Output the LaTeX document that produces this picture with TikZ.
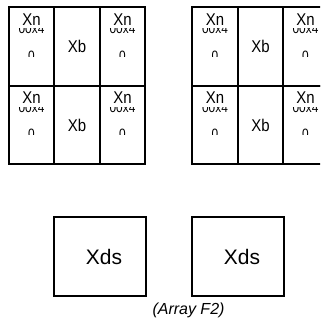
\documentclass[tikz,border=0pt]{standalone}
\usepackage{fontspec}
\setmainfont{Liberation Sans}
\newfontfamily\cellfont[FakeStretch=0.88]{Liberation Sans}
\usepackage{tikz}
\usetikzlibrary{positioning}

\newcommand\xntext[1]{%
\node[bigtext,anchor=base] at ([yshift=-19pt]#1.north) {Xn};
\begin{scope}
\clip ([xshift=-23pt,yshift=-22.5pt]#1.north) rectangle ([xshift=23pt,yshift=-27.5pt]#1.north);
\node[smalltext,anchor=base] at ([yshift=-27.5pt]#1.north) {00x4};
\end{scope}
\begin{scope}
\clip ([xshift=-23pt,yshift=-44pt]#1.north) rectangle ([xshift=23pt,yshift=-50pt]#1.north);
\node[smalltext,anchor=north] at ([yshift=-44.5pt]#1.north) {0};
\end{scope}
}

\begin{document}
\begin{tikzpicture}[x=1pt,y=-1pt,
  cell/.style={draw,line width=2pt,minimum width=45.5pt,minimum height=78.5pt,inner sep=0pt},
  dsbox/.style={draw,line width=2pt,minimum width=92pt,minimum height=79pt,inner sep=0pt},
  bigtext/.style={font=\cellfont\fontsize{17}{19}\selectfont,inner sep=0pt},
  smalltext/.style={font=\cellfont\fontsize{13.5}{15}\selectfont,inner sep=0pt}]
\useasboundingbox (0,0) rectangle (320,320);
\clip (0,0) rectangle (320,320);

% left array
\node[cell] (a11) at (31.5,46.5) {};
\node[cell] (a12) at (77,46.5) {};
\node[cell] (a13) at (122.5,46.5) {};
\node[cell] (a21) at (31.5,125) {};
\node[cell] (a22) at (77,125) {};
\node[cell] (a23) at (122.5,125) {};

% right array
\node[cell] (b11) at (215,46.5) {};
\node[cell] (b12) at (260.5,46.5) {};
\node[cell] (b13) at (305.5,46.5) {};
\node[cell] (b21) at (215,125) {};
\node[cell] (b22) at (260.5,125) {};
\node[cell] (b23) at (305.5,125) {};

\foreach \c in {a11,a13,a21,a23,b11,b13,b21,b23}
  {\xntext{\c}}
\foreach \c in {a12,a22,b12,b22}
  {\node[bigtext] at (\c) {Xb};}

% Xds boxes
\node[dsbox] (ds1) at (100,256.5) {};
\node[dsbox] (ds2) at (238,256.5) {};
\node[font=\fontsize{21}{23}\selectfont,xshift=4pt] at (ds1) {Xds};
\node[font=\fontsize{21}{23}\selectfont,xshift=4pt] at (ds2) {Xds};

\node[font=\fontsize{16}{18}\selectfont\itshape] (cap) at (188.5,310) {(Array F2)};
\end{tikzpicture}
\end{document}
